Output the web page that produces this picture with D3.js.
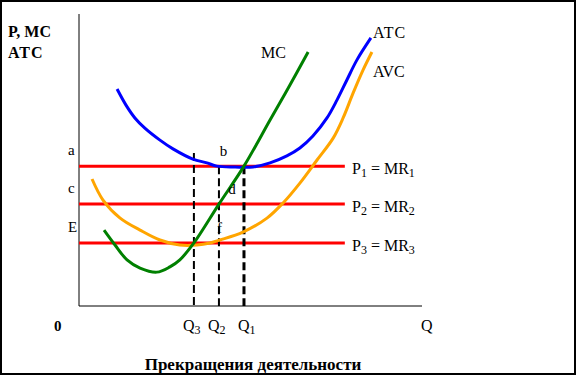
<!DOCTYPE html>
<html>
<head>
<meta charset="utf-8">
<script src="https://cdn.jsdelivr.net/npm/d3@7"></script>
<style>
  body { margin: 0; background: #fff; }
  text { font-family: "Liberation Serif", "Times New Roman", serif; }
</style>
</head>
<body>
<div id="chart"></div>
<script>
// кривые издержек (Q, P) в условных единицах 0..100
var atcData = [[11.1,74.3],[13.7,68.8],[16.3,64.4],[19.2,60.9],[23.6,56.8],[27.4,53.8],[33.2,50.3],
  [37.3,49.0],[40.2,47.9],[45.5,47.6],[50.7,47.6],[55.7,49.0],[60.6,51.4],[64.4,54.1],[68.2,58.2],
  [72.3,64.4],[75.2,70.5],[78.1,77.4],[81.0,84.2],[85.1,91.8]];
var avcData = [[3.8,43.5],[7.0,36.3],[12.0,30.1],[17.8,26.0],[23.6,22.6],[29.4,20.9],[34.4,20.9],
  [38.2,21.6],[41.1,22.6],[47.8,25.3],[54.8,30.1],[59.5,35.3],[64.4,42.1],[69.4,50.0],[74.1,57.5],
  [77.0,64.4],[79.9,72.9],[82.8,80.8],[85.4,87.0]];
var mcData = [[7.3,26.0],[10.5,20.9],[14.0,15.8],[17.8,13.0],[22.7,11.6],[26.5,13.4],[29.4,15.8],
  [33.5,21.6],[40.8,34.9],[48.1,47.9],[55.7,63.7],[61.5,75.7],[66.8,87.0]];

// уровни цены
var prices = [47.9, 34.9, 21.6];
var priceLabels = ["1", "2", "3"];
var priceLetters = ["a", "c", "E"];
var pointLetters = ["b", "d", "f"];

// объёмы Q
var quantities = [48.1, 40.8, 33.5];
var qTops = [47.9, 47.9, 52.4];
var qLabels = ["1", "2", "3"];

var W = 579, H = 378;
var svg = d3.select("#chart").append("svg")
    .attr("width", W).attr("height", H);

// рамка
svg.append("rect")
    .attr("x", 1).attr("y", 1).attr("width", 574).attr("height", 373)
    .attr("fill", "none").attr("stroke", "#000").attr("stroke-width", 2);

var x = d3.scaleLinear().domain([0, 100]).range([79, 422]);
var y = d3.scaleLinear().domain([0, 100]).range([306, 14]);

// оси
svg.append("line").attr("x1", x(0)).attr("x2", x(0)).attr("y1", y(100)).attr("y2", y(0))
    .attr("stroke", "#000").attr("stroke-width", 1);
svg.append("line").attr("x1", x(0)).attr("x2", x(100)).attr("y1", y(0)).attr("y2", y(0))
    .attr("stroke", "#000").attr("stroke-width", 1);

// линии цены
svg.selectAll(".price")
    .data(prices)
    .enter().append("line")
    .attr("x1", x(0)).attr("x2", x(77.5))
    .attr("y1", function(d) { return y(d); })
    .attr("y2", function(d) { return y(d); })
    .attr("stroke", "#ff0000").attr("stroke-width", 3);

// пунктирные линии Q
svg.selectAll(".qline")
    .data(quantities)
    .enter().append("line")
    .attr("x1", function(d) { return x(d); })
    .attr("x2", function(d) { return x(d); })
    .attr("y1", function(d, i) { return y(qTops[i]); })
    .attr("y2", y(0))
    .attr("stroke", "#000")
    .attr("stroke-width", function(d, i) { return i === 0 ? 3 : 2; })
    .attr("stroke-dasharray", "8,4");

var line = d3.line()
    .x(function(d) { return x(d[0]); })
    .y(function(d) { return y(d[1]); })
    .curve(d3.curveCatmullRom.alpha(0.5));

svg.append("path").attr("d", line(atcData))
    .attr("fill", "none").attr("stroke", "#0000ff").attr("stroke-width", 3);
svg.append("path").attr("d", line(avcData))
    .attr("fill", "none").attr("stroke", "#ffa500").attr("stroke-width", 3);
svg.append("path").attr("d", line(mcData))
    .attr("fill", "none").attr("stroke", "#008000").attr("stroke-width", 3);

// подписи осей
svg.append("text").attr("x", 8).attr("y", 37)
    .attr("font-size", 16).attr("font-weight", "bold").text("P, MC");
svg.append("text").attr("x", 8).attr("y", 58)
    .attr("font-size", 16).attr("font-weight", "bold").attr("letter-spacing", 1).text("ATC");
svg.append("text").attr("x", 54).attr("y", 331)
    .attr("font-size", 15).attr("font-weight", "bold").text("0");
svg.append("text").attr("x", 421).attr("y", 331)
    .attr("font-size", 16).text("Q");

// подписи кривых
svg.append("text").attr("x", 261).attr("y", 58).attr("font-size", 16).text("MC");
svg.append("text").attr("x", 373).attr("y", 38).attr("font-size", 16).attr("letter-spacing", 1).text("ATC");
svg.append("text").attr("x", 373).attr("y", 77).attr("font-size", 16).text("AVC");

// P = MR
svg.selectAll(".plabel")
    .data(prices)
    .enter().append("text")
    .attr("x", 352)
    .attr("y", function(d) { return y(d) + 8; })
    .attr("font-size", 16)
    .each(function(d, i) {
      var t = d3.select(this);
      t.append("tspan").text("P");
      t.append("tspan").attr("dy", 3).attr("font-size", 12).text(priceLabels[i]);
      t.append("tspan").attr("dy", -3).text(" = MR");
      t.append("tspan").attr("dy", 3).attr("font-size", 12).text(priceLabels[i]);
    });

// буквы a, c, E
svg.selectAll(".pletter")
    .data(prices)
    .enter().append("text")
    .attr("x", 68)
    .attr("y", function(d) { return y(d) - 11; })
    .attr("font-size", 15)
    .text(function(d, i) { return priceLetters[i]; });

// буквы b, d, f
var letterPos = [[41.0, 51.5], [43.5, 38.5], [40.2, 25.1]];
svg.selectAll(".ptletter")
    .data(letterPos)
    .enter().append("text")
    .attr("x", function(d) { return x(d[0]); })
    .attr("y", function(d) { return y(d[1]); })
    .attr("font-size", 15)
    .text(function(d, i) { return pointLetters[i]; });

// Q1, Q2, Q3
var qShift = [-6, -11, -11];
svg.selectAll(".qlabel")
    .data(quantities)
    .enter().append("text")
    .attr("x", function(d, i) { return x(d) + qShift[i]; })
    .attr("y", 331)
    .attr("font-size", 16)
    .each(function(d, i) {
      var t = d3.select(this);
      t.append("tspan").text("Q");
      t.append("tspan").attr("dy", 3).attr("font-size", 12).text(qLabels[i]);
    });

// заголовок
svg.append("text").attr("x", 253).attr("y", 370)
    .attr("text-anchor", "middle").attr("font-size", 17).attr("font-weight", "bold")
    .text("Прекращения деятельности");
</script>
</body>
</html>
